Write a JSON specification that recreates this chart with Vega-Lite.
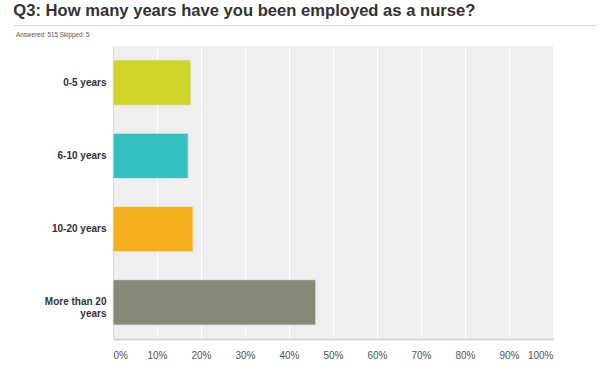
{
  "$schema": "https://vega.github.io/schema/vega-lite/v6.json",
  "background": "white",
  "padding": {"left": 10, "top": 3, "right": 5, "bottom": 0},
  "spacing": 2,
  "config": {
    "font": "Liberation Sans",
    "view": {"stroke": null}
  },
  "vconcat": [
    {
      "title": {
        "text": "Q3: How many years have you been employed as a nurse?",
        "anchor": "start",
        "frame": "group",
        "dx": -99.7,
        "fontSize": 16.6,
        "fontWeight": "bold",
        "color": "#333333",
        "offset": 3
      },
      "width": 440,
      "height": 1,
      "data": {"values": [{"v": 0}]},
      "mark": {"type": "point", "opacity": 0},
      "encoding": {
        "x": {
          "field": "v",
          "type": "quantitative",
          "scale": {"domain": [0, 1], "range": [-99.7, 482.3], "nice": false, "zero": false},
          "axis": {
            "orient": "top",
            "title": null,
            "labels": false,
            "ticks": false,
            "grid": false,
            "domainColor": "#d9d9d9",
            "domainWidth": 1
          }
        }
      }
    },
    {
      "title": {
        "text": "Answered: 515   Skipped: 5",
        "anchor": "start",
        "frame": "group",
        "dx": -97,
        "fontSize": 6.3,
        "fontWeight": "normal",
        "color": "#555555",
        "offset": 8
      },
      "width": 440,
      "height": 293,
      "view": {"fill": "#efefef", "stroke": null},
      "data": {
        "values": [
          {"answer": "0-5 years", "share": 0.177},
          {"answer": "6-10 years", "share": 0.171},
          {"answer": "10-20 years", "share": 0.182},
          {"answer": "More than 20 years", "share": 0.461}
        ]
      },
      "mark": {"type": "bar", "stroke": "#e6e6e6", "strokeWidth": 1},
      "encoding": {
        "y": {
          "field": "answer",
          "type": "nominal",
          "sort": null,
          "scale": {"paddingInner": 0.38, "paddingOuter": 0.19},
          "axis": {
            "title": null,
            "ticks": false,
            "minExtent": 100,
            "labelFontWeight": "bold",
            "labelFontSize": 10,
            "labelColor": "#333333",
            "labelPadding": 7,
            "labelLineHeight": 12,
            "domainColor": "#d8d8d8",
            "domainWidth": 1,
            "labelExpr": "datum.label == 'More than 20 years' ? ['More than 20', 'years'] : datum.label"
          }
        },
        "x": {
          "field": "share",
          "type": "quantitative",
          "scale": {"domain": [0, 1], "nice": false},
          "axis": {
            "title": null,
            "format": "%",
            "values": [0, 0.1, 0.2, 0.3, 0.4, 0.5, 0.6, 0.7, 0.8, 0.9, 1],
            "ticks": false,
            "grid": true,
            "gridColor": "#ffffff",
            "gridWidth": 1,
            "labelFontSize": 10,
            "labelColor": "#555555",
            "labelPadding": 11,
            "labelFlush": true,
            "domainColor": "#d3d3d3",
            "domainWidth": 2
          }
        },
        "color": {
          "field": "answer",
          "type": "nominal",
          "legend": null,
          "scale": {
            "domain": ["0-5 years", "6-10 years", "10-20 years", "More than 20 years"],
            "range": ["#cfd428", "#34bfc0", "#f6af1f", "#878876"]
          }
        }
      }
    }
  ],
  "resolve": {"scale": {"x": "independent"}}
}
